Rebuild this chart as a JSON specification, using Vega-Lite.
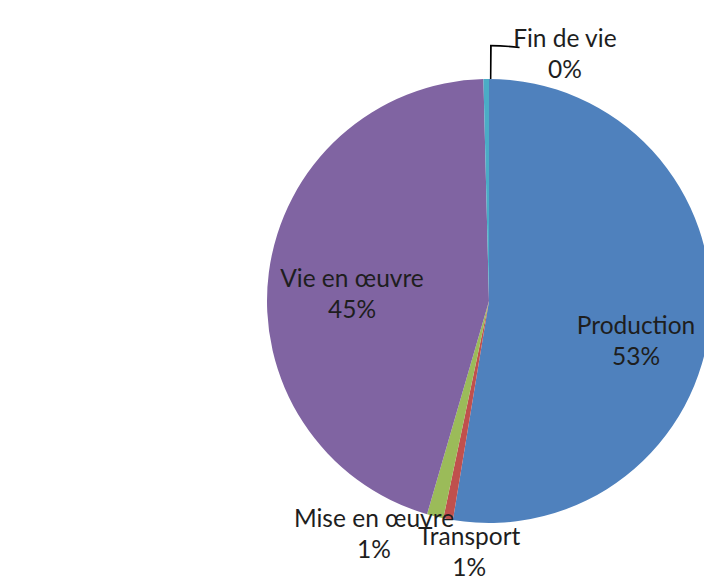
{
  "$schema": "https://vega.github.io/schema/vega-lite/v6.json",
  "width": 444,
  "height": 444,
  "padding": {"left": 267, "top": 79, "right": 0, "bottom": 56},
  "autosize": {"type": "none"},
  "background": "white",
  "view": {"stroke": null},
  "config": {"text": {"font": "Lato", "fontSize": 24.5, "color": "#1e1e1e", "lineHeight": 31}},
  "data": {
    "values": [
      {"stage": "Production", "value": 52.6, "rank": 1, "lines": ["Production", "53%"]},
      {"stage": "Transport", "value": 0.7, "rank": 2, "lines": ["Transport", "1%"]},
      {"stage": "Mise en œuvre", "value": 1.2, "rank": 3, "lines": ["Mise en œuvre", "1%"]},
      {"stage": "Vie en œuvre", "value": 45.1, "rank": 4, "lines": ["Vie en œuvre", "45%"]},
      {"stage": "Fin de vie", "value": 0.4, "rank": 5, "lines": ["Fin de vie", "0%"]}
    ]
  },
  "transform": [
    {"stack": "value", "groupby": [], "sort": [{"field": "rank", "order": "ascending"}], "as": ["v0", "v1"]}
  ],
  "layer": [
    {
      "mark": {"type": "arc"},
      "encoding": {
        "theta": {"field": "v0", "type": "quantitative", "scale": {"domain": [0, 100]}},
        "theta2": {"field": "v1"},
        "color": {
          "field": "stage",
          "type": "nominal",
          "scale": {
            "domain": ["Production", "Transport", "Mise en œuvre", "Vie en œuvre", "Fin de vie"],
            "range": ["#4F81BD", "#C0504D", "#9BBB59", "#8064A2", "#4BACC6"]
          },
          "legend": null
        }
      }
    },
    {
      "transform": [{"filter": "datum.stage === 'Fin de vie'"}],
      "mark": {"type": "arc", "theta": 0.004, "theta2": 0.011, "radius": 222, "radius2": 256, "fill": "#000000"},
      "encoding": {}
    },
    {
      "transform": [{"filter": "datum.stage === 'Fin de vie'"}],
      "mark": {"type": "arc", "theta": 0.004, "theta2": 0.12, "radius": 254.5, "radius2": 256.2, "fill": "#000000"},
      "encoding": {}
    },
    {
      "transform": [{"filter": "datum.stage === 'Production'"}],
      "mark": {"type": "text", "radius": 149.3, "thetaOffset": 1.746, "align": "center", "baseline": "middle"},
      "encoding": {
        "theta": {"field": "v0", "type": "quantitative", "scale": {"domain": [0, 100]}},
        "text": {"field": "lines"}
      }
    },
    {
      "transform": [{"filter": "datum.stage === 'Transport'"}],
      "mark": {"type": "text", "radius": 237.8, "thetaOffset": -0.08, "align": "center", "baseline": "middle"},
      "encoding": {
        "theta": {"field": "v0", "type": "quantitative", "scale": {"domain": [0, 100]}},
        "text": {"field": "lines"}
      }
    },
    {
      "transform": [{"filter": "datum.stage === 'Mise en œuvre'"}],
      "mark": {"type": "text", "radius": 247.4, "thetaOffset": 0.276, "align": "center", "baseline": "middle"},
      "encoding": {
        "theta": {"field": "v0", "type": "quantitative", "scale": {"domain": [0, 100]}},
        "text": {"field": "lines"}
      }
    },
    {
      "transform": [{"filter": "datum.stage === 'Vie en œuvre'"}],
      "mark": {"type": "text", "radius": 138.6, "thetaOffset": 1.44, "align": "center", "baseline": "middle"},
      "encoding": {
        "theta": {"field": "v0", "type": "quantitative", "scale": {"domain": [0, 100]}},
        "text": {"field": "lines"}
      }
    },
    {
      "transform": [{"filter": "datum.stage === 'Fin de vie'"}],
      "mark": {"type": "text", "radius": 271.8, "thetaOffset": 0.308, "align": "center", "baseline": "middle"},
      "encoding": {
        "theta": {"field": "v0", "type": "quantitative", "scale": {"domain": [0, 100]}},
        "text": {"field": "lines"}
      }
    }
  ]
}
